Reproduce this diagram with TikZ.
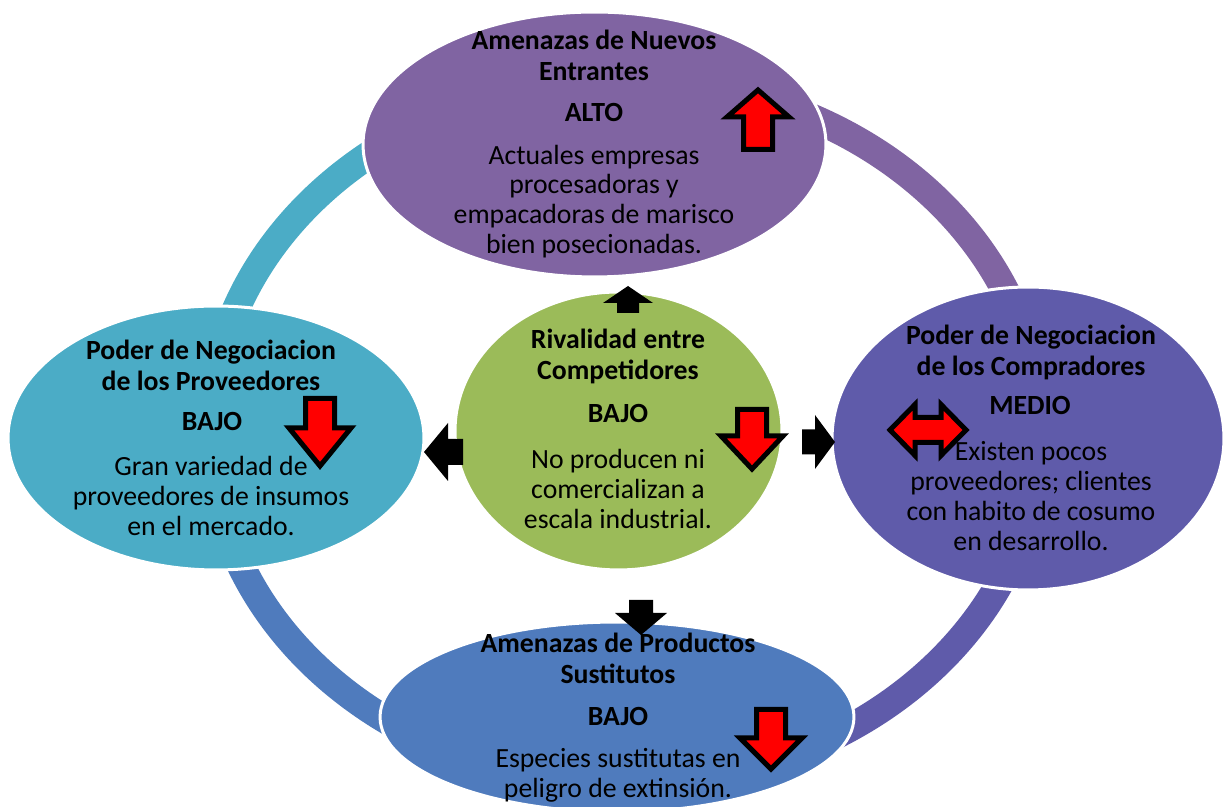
\documentclass[tikz,border=0pt]{standalone}
\usepackage{fontspec}
\setmainfont{Carlito}
\usetikzlibrary{shapes.geometric}
\definecolor{cpurple}{HTML}{8064A2}
\definecolor{cteal}{HTML}{4BACC6}
\definecolor{cgreen}{HTML}{9BBB59}
\definecolor{cindigo}{HTML}{5F5BAA}
\definecolor{cblue}{HTML}{4F7BBD}
\begin{document}
\begin{tikzpicture}[x=0.02cm,y=0.02cm,
  oval/.style={ellipse, draw=white, line width=0.06cm, inner sep=0pt},
  txt/.style={align=center, font=\fontsize{15.8}{17}\selectfont, text=black, inner sep=0pt},
  hdr/.style={align=center, font=\fontsize{15.8}{17.6}\selectfont\bfseries, text=black, inner sep=0pt},
  ringseg/.style={line width=0.56cm},
  blkarrow/.style={fill=black},
  redarrow/.style={fill=red, draw=black, line width=0.1cm, miter limit=10}
]
\useasboundingbox (0,0) rectangle (1224,807);
\fill[white] (0,0) rectangle (1224,807);

% ring
\coordinate (rc) at (625,375);
\draw[ringseg, cteal]   (rc) ++(0,352)  arc[start angle=90,  end angle=180, x radius=8.3cm, y radius=7.04cm];
\draw[ringseg, cblue]   (rc) ++(-415,0) arc[start angle=180, end angle=270, x radius=8.3cm, y radius=7.04cm];
\draw[ringseg, cindigo] (rc) ++(0,-352) arc[start angle=270, end angle=360, x radius=8.3cm, y radius=7.04cm];
\draw[ringseg, cpurple] (rc) ++(415,0)  arc[start angle=0,   end angle=90,  x radius=8.3cm, y radius=7.04cm];

% ellipses
\node[oval, fill=cpurple, minimum width=9.26cm, minimum height=5.3cm]  (etop)    at (594.5,662.5) {};
\node[oval, fill=cteal,   minimum width=8.32cm, minimum height=5.28cm] (eleft)   at (216,369) {};
\node[oval, fill=cindigo, minimum width=7.84cm, minimum height=6.06cm] (eright)  at (1028,368.5) {};
\node[oval, fill=cblue,   minimum width=9.48cm, minimum height=3.8cm]  (ebottom) at (617,90) {};
\node[oval, fill=cgreen,  minimum width=6.54cm, minimum height=5.56cm] (ecenter) at (618.5,376) {};

% black arrows
\fill[blkarrow] (617,494) -- (617,504) -- (603,504) -- (628,521) -- (653,504) -- (639,504) -- (639,494) -- cycle;
\fill[blkarrow] (463,342) -- (448,342) -- (448,326) -- (424,355) -- (448,384) -- (448,368) -- (463,368) -- cycle;
\fill[blkarrow] (802,352.5) -- (815,352.5) -- (815,338) -- (835,365) -- (815,392) -- (815,377.5) -- (802,377.5) -- cycle;
\fill[blkarrow] (629,207) -- (653,207) -- (653,194) -- (667,194) -- (641,172) -- (615,194) -- (629,194) -- cycle;

% texts: top
\node[hdr] (t1h) at (594,751.5) {Amenazas de Nuevos\\Entrantes};
\node[hdr] (t1l) at (594,694) {ALTO};
\node[txt] (t1b) at (594,605.5) {Actuales empresas\\procesadoras y\\empacadoras de marisco\\bien posecionadas.};
% left
\node[hdr] (t2h) at (211,442) {Poder de Negociacion\\de los Proveedores};
\node[hdr] (t2l) at (212,385) {BAJO};
\node[txt] (t2b) at (211,311) {Gran variedad de\\proveedores de insumos\\en el mercado.};
% center
\node[hdr] (t3h) at (618,450.5) {Rivalidad entre\\Competidores};
\node[hdr] (t3l) at (618,393) {BAJO};
\node[txt] (t3b) at (618,318.3) {No producen ni\\comercializan a\\escala industrial.};
% right
\node[hdr] (t4h) at (1031,454.5) {Poder de Negociacion\\de los Compradores};
\node[hdr] (t4l) at (1030,401) {MEDIO};
\node[txt] (t4b) at (1031,311) {Existen pocos\\proveedores; clientes\\con habito de cosumo\\en desarrollo.};
% bottom
\node[hdr] (t5h) at (618,148.5) {Amenazas de Productos\\Sustitutos};
\node[hdr] (t5l) at (618,91) {BAJO};
\node[txt] (t5b) at (618,32) {Especies sustitutas en\\peligro de extinsión.};

% red arrows
\draw[redarrow] (743.5,657.5) -- (743.5,690) -- (727,690) -- (758,717) -- (789,690) -- (772.5,690) -- (772.5,657.5) -- cycle;
\draw[redarrow] (737.5,397.5) -- (766.5,397.5) -- (766.5,371) -- (783,371) -- (752,338) -- (721,371) -- (737.5,371) -- cycle;
\draw[redarrow] (305.5,408.5) -- (334.5,408.5) -- (334.5,379) -- (351,379) -- (320,341) -- (289,379) -- (305.5,379) -- cycle;
\draw[redarrow] (756.5,97.5) -- (785.5,97.5) -- (785.5,69) -- (802,69) -- (771,38) -- (740,69) -- (756.5,69) -- cycle;
\draw[redarrow] (890,377) -- (915,402.5) -- (915,389.5) -- (941,389.5) -- (941,402.5) -- (966,377) -- (941,351.5) -- (941,364.5) -- (915,364.5) -- (915,351.5) -- cycle;
\end{tikzpicture}
\end{document}
